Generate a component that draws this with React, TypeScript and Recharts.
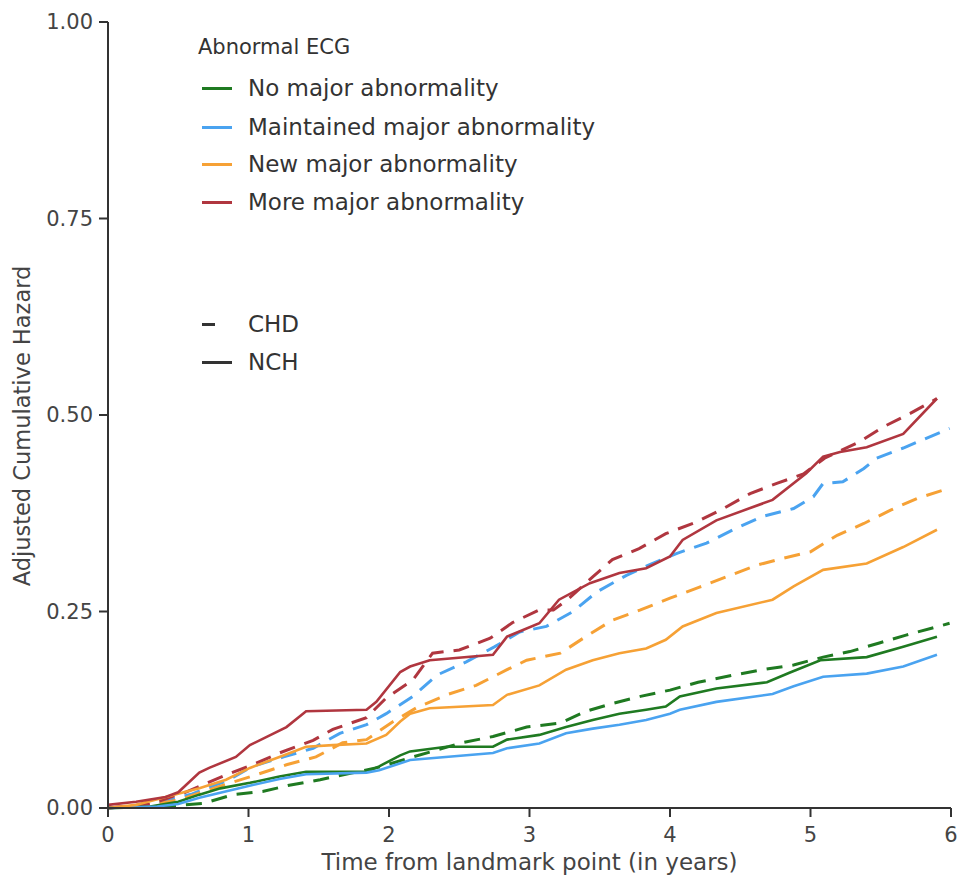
import React from 'react'
import { LineChart, Line, XAxis, YAxis } from 'recharts'

// the chart fills the whole window, so drop the default body margin
document.body.style.margin = '0'

type Pt = { x: number; y: number }
const pts = (rows: number[][]): Pt[] => rows.map(([x, y]) => ({ x, y }))

const xTicks = [0, 1, 2, 3, 4, 5, 6]
const yTicks = [0, 0.25, 0.5, 0.75, 1]

const noMajorNCH = pts([
  [0, 0], [0.3, 0.002], [0.5, 0.008], [0.65, 0.017], [0.8, 0.025], [1.01, 0.032],
  [1.22, 0.04], [1.41, 0.046], [1.84, 0.046], [1.93, 0.053], [2.08, 0.067], [2.15, 0.072],
  [2.41, 0.078], [2.74, 0.078], [2.84, 0.087], [3.07, 0.093], [3.26, 0.103], [3.45, 0.112],
  [3.64, 0.12], [3.83, 0.125], [3.97, 0.129], [4.07, 0.142], [4.33, 0.152], [4.69, 0.16],
  [4.85, 0.172], [5.07, 0.188], [5.4, 0.192], [5.66, 0.205], [5.9, 0.218],
])
const noMajorCHD = pts([
  [0, 0], [0.4, 0.002], [0.68, 0.006], [0.89, 0.017], [1.1, 0.021], [1.29, 0.029],
  [1.51, 0.036], [1.75, 0.045], [1.93, 0.052], [2.17, 0.065], [2.52, 0.083], [2.74, 0.091],
  [2.98, 0.103], [3.22, 0.108], [3.4, 0.123], [3.59, 0.133], [3.79, 0.142], [4.0, 0.15],
  [4.2, 0.16], [4.45, 0.169], [4.66, 0.176], [4.88, 0.182], [5.09, 0.192], [5.28, 0.199],
  [5.49, 0.21], [5.68, 0.22], [5.99, 0.235],
])
const maintainedNCH = pts([
  [0, 0], [0.35, 0.002], [0.5, 0.005], [0.65, 0.013], [1.0, 0.028], [1.22, 0.037],
  [1.41, 0.043], [1.84, 0.045], [1.93, 0.048], [2.15, 0.061], [2.74, 0.07], [2.84, 0.076],
  [3.07, 0.082], [3.26, 0.095], [3.45, 0.101], [3.64, 0.106], [3.83, 0.112], [4.0, 0.12],
  [4.07, 0.125], [4.33, 0.135], [4.73, 0.145], [4.88, 0.155], [5.09, 0.167], [5.4, 0.171],
  [5.66, 0.18], [5.9, 0.195],
])
const maintainedCHD = pts([
  [0, 0], [0.3, 0.003], [0.6, 0.018], [0.85, 0.035], [1.03, 0.053], [1.25, 0.065],
  [1.46, 0.076], [1.65, 0.095], [1.84, 0.106], [1.98, 0.12], [2.17, 0.142], [2.34, 0.169],
  [2.55, 0.186], [2.75, 0.205], [2.93, 0.224], [3.12, 0.231], [3.31, 0.25], [3.48, 0.275],
  [3.69, 0.296], [3.86, 0.31], [4.05, 0.324], [4.26, 0.337], [4.47, 0.356], [4.66, 0.371],
  [4.88, 0.381], [5.02, 0.396], [5.09, 0.413], [5.23, 0.415], [5.38, 0.432], [5.47, 0.445],
  [5.66, 0.458], [5.99, 0.483],
])
const newMajorNCH = pts([
  [0, 0], [0.2, 0.004], [0.41, 0.014], [0.65, 0.025], [0.84, 0.036], [1.01, 0.051],
  [1.22, 0.065], [1.41, 0.078], [1.6, 0.08], [1.84, 0.082], [1.98, 0.093], [2.08, 0.11],
  [2.15, 0.12], [2.29, 0.127], [2.74, 0.131], [2.84, 0.144], [3.07, 0.156], [3.26, 0.176],
  [3.45, 0.188], [3.64, 0.197], [3.83, 0.203], [3.97, 0.214], [4.09, 0.231], [4.33, 0.248],
  [4.73, 0.265], [4.88, 0.282], [5.09, 0.303], [5.4, 0.311], [5.66, 0.332], [5.9, 0.354],
])
const newMajorCHD = pts([
  [0, 0], [0.3, 0.004], [0.5, 0.01], [0.75, 0.025], [1.05, 0.042], [1.27, 0.055],
  [1.48, 0.065], [1.67, 0.083], [1.84, 0.087], [2.03, 0.11], [2.2, 0.128], [2.41, 0.144],
  [2.62, 0.156], [2.84, 0.176], [2.98, 0.188], [3.22, 0.197], [3.4, 0.218], [3.59, 0.239],
  [3.79, 0.252], [4.0, 0.267], [4.21, 0.281], [4.4, 0.294], [4.62, 0.309], [4.81, 0.318],
  [5.0, 0.326], [5.19, 0.347], [5.38, 0.362], [5.57, 0.379], [5.76, 0.394], [5.99, 0.407],
])
const moreMajorNCH = pts([
  [0, 0.004], [0.2, 0.008], [0.41, 0.014], [0.5, 0.02], [0.65, 0.045], [0.72, 0.051],
  [0.91, 0.065], [1.01, 0.08], [1.27, 0.103], [1.41, 0.123], [1.84, 0.125], [1.91, 0.135],
  [2.08, 0.173], [2.15, 0.18], [2.29, 0.188], [2.74, 0.195], [2.84, 0.218], [3.07, 0.235],
  [3.21, 0.265], [3.43, 0.286], [3.64, 0.299], [3.83, 0.305], [4.0, 0.32], [4.09, 0.341],
  [4.33, 0.366], [4.73, 0.392], [4.97, 0.426], [5.09, 0.447], [5.21, 0.453], [5.4, 0.459],
  [5.66, 0.476], [5.9, 0.521],
])
const moreMajorCHD = pts([
  [0, 0], [0.3, 0.005], [0.55, 0.02], [0.84, 0.042], [1.03, 0.055], [1.22, 0.07],
  [1.46, 0.086], [1.6, 0.1], [1.84, 0.115], [1.98, 0.14], [2.17, 0.163], [2.31, 0.197],
  [2.5, 0.201], [2.72, 0.216], [2.88, 0.236], [3.07, 0.252], [3.17, 0.252], [3.27, 0.265],
  [3.45, 0.294], [3.59, 0.316], [3.78, 0.33], [3.97, 0.349], [4.19, 0.364], [4.38, 0.381],
  [4.57, 0.4], [4.76, 0.413], [4.95, 0.425], [5.1, 0.445], [5.35, 0.466], [5.52, 0.485],
  [5.71, 0.502], [5.9, 0.521],
])

const groups = [
  { name: 'No major abnormality', color: '#1f7a21', nch: noMajorNCH, chd: noMajorCHD },
  { name: 'Maintained major abnormality', color: '#4aa3f0', nch: maintainedNCH, chd: maintainedCHD },
  { name: 'New major abnormality', color: '#f6a135', nch: newMajorNCH, chd: newMajorCHD },
  { name: 'More major abnormality', color: '#b0363f', nch: moreMajorNCH, chd: moreMajorCHD },
]

const FONT = '"DejaVu Sans", sans-serif'
const AXIS = '#333'

function LegendRow({ top, color, width, label }: { top: number; color: string; width: number; label: string }) {
  return (
    <div style={{ position: 'absolute', left: 202, top: top - 14, height: 28, display: 'flex', alignItems: 'center' }}>
      <div style={{ width, height: 3, background: color, marginRight: 46 - width }} />
      <span style={{ fontSize: 23, color: '#333', whiteSpace: 'nowrap' }}>{label}</span>
    </div>
  )
}

export default function App() {
  return (
    <div style={{ position: 'relative', width: 961, height: 879, fontFamily: FONT, overflow: 'hidden' }}>
      <LineChart width={961} height={879} margin={{ top: 22, right: 10, bottom: 0, left: 0 }}>
        <XAxis
          type="number"
          dataKey="x"
          domain={[0, 6]}
          ticks={xTicks}
          height={71}
          tickSize={9}
          tickMargin={10}
          stroke={AXIS}
          strokeWidth={2}
          tick={{ fill: '#444', fontSize: 21, fontFamily: FONT }}
          label={({ viewBox }: any) => (
            <text
              x={viewBox.x + viewBox.width / 2}
              y={862}
              textAnchor="middle"
              dominantBaseline="central"
              fill="#444"
              fontSize={23}
              fontFamily={FONT}
            >
              Time from landmark point (in years)
            </text>
          )}
        />
        <YAxis
          type="number"
          dataKey="y"
          domain={[0, 1]}
          ticks={yTicks}
          width={108}
          tickSize={9}
          tickMargin={6}
          stroke={AXIS}
          strokeWidth={2}
          tickFormatter={(v: number) => v.toFixed(2)}
          tick={{ fill: '#444', fontSize: 21, fontFamily: FONT }}
          label={() => (
            <text
              x={22}
              y={426}
              transform="rotate(-90 22 426)"
              textAnchor="middle"
              dominantBaseline="central"
              fill="#444"
              fontSize={22.5}
              fontFamily={FONT}
            >
              Adjusted Cumulative Hazard
            </text>
          )}
        />
        {groups.map((g) => (
          <Line
            key={g.name + '-chd'}
            data={g.chd}
            dataKey="y"
            type="linear"
            stroke={g.color}
            strokeWidth={3}
            strokeDasharray="16 10"
            dot={false}
            activeDot={false}
            isAnimationActive={false}
          />
        ))}
        {groups.map((g) => (
          <Line
            key={g.name + '-nch'}
            data={g.nch}
            dataKey="y"
            type="linear"
            stroke={g.color}
            strokeWidth={2.6}
            dot={false}
            activeDot={false}
            isAnimationActive={false}
          />
        ))}
      </LineChart>
      <div style={{ position: 'absolute', left: 198, top: 34, fontSize: 21, color: '#333', lineHeight: '26px' }}>
        Abnormal ECG
      </div>
      {groups.map((g, i) => (
        <LegendRow key={g.name} top={[88, 127, 164, 202][i]} color={g.color} width={30} label={g.name} />
      ))}
      <LegendRow top={324} color="#333" width={13} label="CHD" />
      <LegendRow top={362} color="#333" width={30} label="NCH" />
    </div>
  )
}
